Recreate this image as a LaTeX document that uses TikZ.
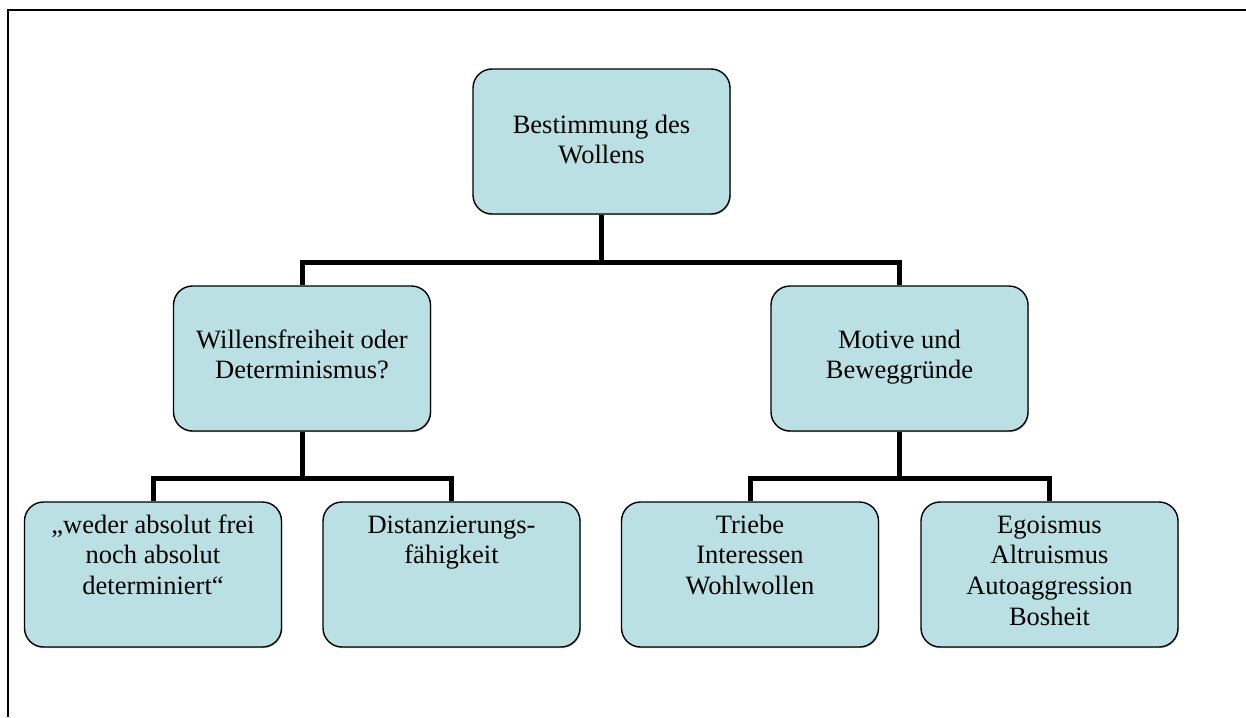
\documentclass[tikz,border=0pt]{standalone}
\usepackage{fontspec}
\setmainfont{Liberation Serif}
\usetikzlibrary{shadows}
\definecolor{boxfill}{RGB}{187,224,227}
\tikzset{
  chartbox/.style={draw=black, line width=1.4pt, fill=boxfill, rounded corners=19pt,
    minimum width=257pt, minimum height=145pt, inner sep=0pt,
    drop shadow={shadow xshift=0.8pt, shadow yshift=-1.2pt, opacity=0.25, fill=black}},
  boxtext/.style={anchor=base, inner sep=0pt, font=\fontsize{26.5}{30.8}\selectfont},
  conn/.style={line width=5pt, line join=miter},
  frame/.style={line width=2.4pt}
}
\newcommand{\boxlines}[1]{\parbox[t]{250pt}{\centering #1}}
\begin{document}
\begin{tikzpicture}[x=1pt, y=-1pt]
  \useasboundingbox (0,0) rectangle (1246,717);
  % outer frame (left and top edges)
  \draw[frame] (8,717) -- (8,10) -- (1246,10);

  % boxes
  \node[chartbox] (top)  at (601.5,141.5) {};
  \node[chartbox] (midL) at (302,358.5) {};
  \node[chartbox] (midR) at (899.5,358.5) {};
  \node[chartbox] (b1)   at (153,574.5) {};
  \node[chartbox] (b2)   at (451.5,574.5) {};
  \node[chartbox] (b3)   at (750,574.5) {};
  \node[chartbox] (b4)   at (1049.5,574.5) {};

  % labels
  \node[boxtext] (topT)  at (601.5,133) {\boxlines{Bestimmung des\\Wollens}};
  \node[boxtext] (midLT) at (302,348) {\boxlines{Willensfreiheit oder\\Determinismus?}};
  \node[boxtext] (midRT) at (899.5,348) {\boxlines{Motive und\\Beweggründe}};
  \node[boxtext] (b1T)   at (153,533) {\boxlines{„weder absolut frei\\noch absolut\\determiniert“}};
  \node[boxtext] (b2T)   at (451.5,533) {\boxlines{Distanzierungs-\\fähigkeit}};
  \node[boxtext] (b3T)   at (750,533) {\boxlines{Triebe\\Interessen\\Wohlwollen}};
  \node[boxtext] (b4T)   at (1049.5,533) {\boxlines{Egoismus\\Altruismus\\Autoaggression\\Bosheit}};

  % bus levels
  \coordinate (busA) at (0,262);
  \coordinate (busB) at (0,478);

  % connectors
  \draw[conn] (top.south) -- (top.south |- busA) -| (midL.north);
  \draw[conn] (top.south |- busA) -| (midR.north);
  \draw[conn] (midL.south) -- (midL.south |- busB) -| (b1.north);
  \draw[conn] (midL.south |- busB) -| (b2.north);
  \draw[conn] (midR.south) -- (midR.south |- busB) -| (b3.north);
  \draw[conn] (midR.south |- busB) -| (b4.north);
\end{tikzpicture}
\end{document}
